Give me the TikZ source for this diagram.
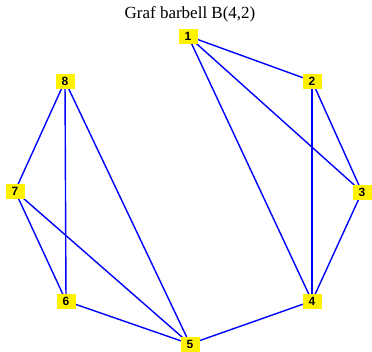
\documentclass[tikz,border=0pt]{standalone}
\usepackage{fontspec}
\setmainfont{Liberation Serif}
\newfontfamily\nodefont{Liberation Sans}
\usetikzlibrary{backgrounds}
\begin{document}
\begin{tikzpicture}[x=1pt,y=-1pt,
  vert/.style={fill=yellow,inner sep=0pt,minimum width=19pt,minimum height=15pt,font=\nodefont\bfseries\fontsize{12}{12}\selectfont},
  edge/.style={draw=blue,line width=1.4pt}]
\useasboundingbox (0,0) rectangle (372,351);
\node[font=\fontsize{17}{17}\selectfont] (title) at (190,14) {Graf barbell B(4,2)};
\node[vert] (n1) at (188,36) {1};
\node[vert] (n2) at (312,81) {2};
\node[vert] (n3) at (362,192) {3};
\node[vert] (n4) at (312,301) {4};
\node[vert] (n5) at (190,344) {5};
\node[vert] (n6) at (66,301) {6};
\node[vert] (n7) at (15,191) {7};
\node[vert] (n8) at (65,81) {8};
\begin{scope}[on background layer]
\foreach \a/\b in {n1/n2,n1/n3,n1/n4,n2/n3,n2/n4,n3/n4,n4/n5,n5/n6,n5/n7,n5/n8,n6/n7,n6/n8,n7/n8}
  \draw[edge] (\a.center) -- (\b.center);
\end{scope}
\end{tikzpicture}
\end{document}
